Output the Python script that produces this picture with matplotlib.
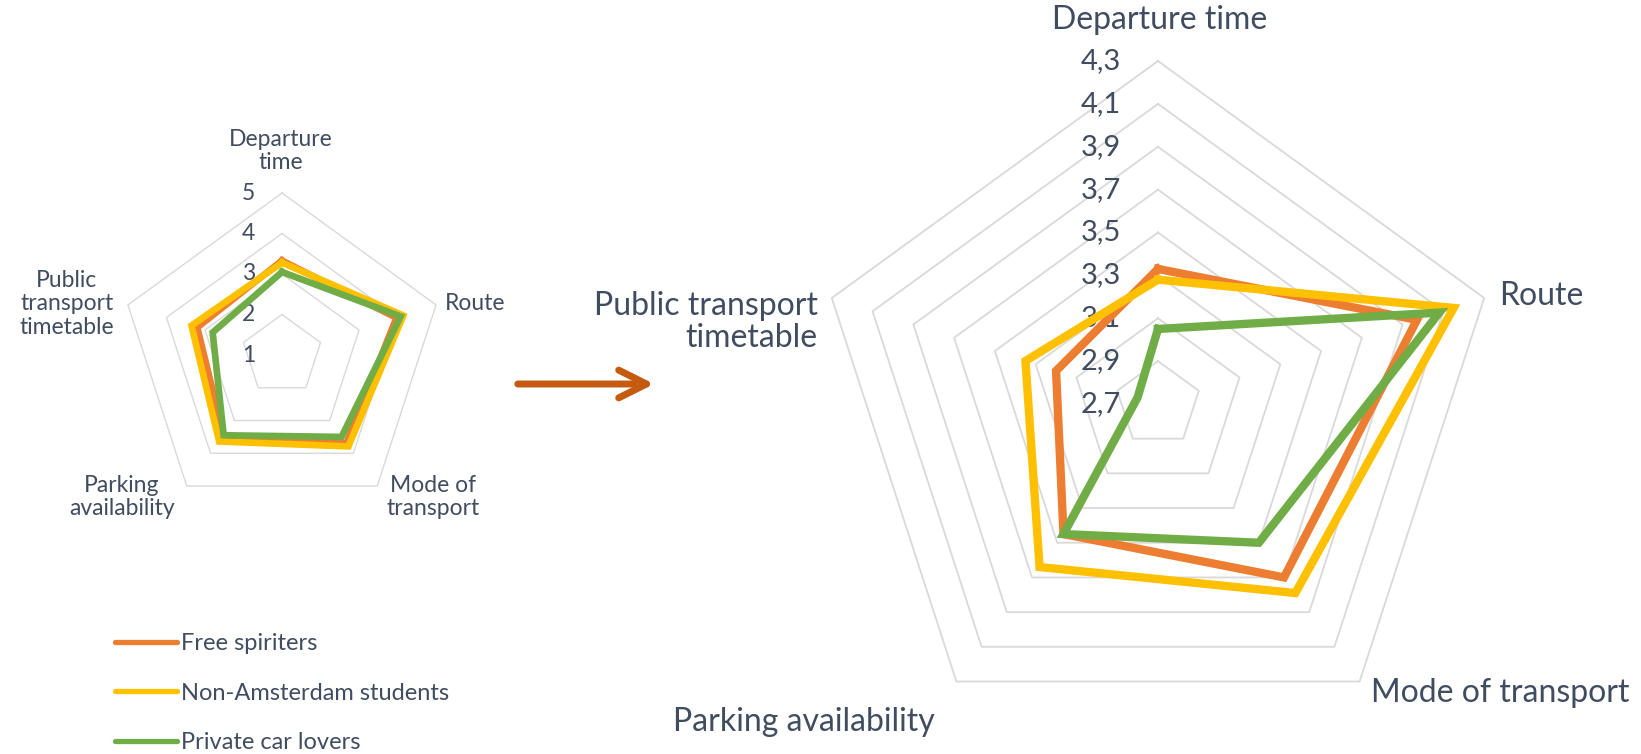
import numpy as np
import matplotlib.pyplot as plt
from matplotlib.patches import FancyArrowPatch
from matplotlib.lines import Line2D
from matplotlib.transforms import offset_copy

plt.rcParams['font.family'] = ['Lato', 'DejaVu Sans']

# data (same survey scores, shown on two scales)
categories = ['Departure time', 'Route', 'Mode of transport',
              'Parking availability', 'Public transport timetable']
series_names = ['Free spiriters', 'Non-Amsterdam students', 'Private car lovers']
free_spiriters = [3.33, 3.97, 3.70, 3.45, 3.20]
non_amsterdam = [3.28, 4.15, 3.79, 3.64, 3.35]
car_lovers = [3.05, 4.08, 3.50, 3.45, 2.80]
colors = ['#ED7D31', '#FFC000', '#70AD47']

left_ticks = [1, 2, 3, 4, 5]
left_tick_labels = ['1', '2', '3', '4', '5']
right_ticks = [2.7, 2.9, 3.1, 3.3, 3.5, 3.7, 3.9, 4.1, 4.3]
right_tick_labels = ['2,7', '2,9', '3,1', '3,3', '3,5', '3,7', '3,9', '4,1', '4,3']

TXT = '#404C60'
GRID = '#D9D9D9'
W, H = 1641, 754

fig = plt.figure(figsize=(W / 100, H / 100), dpi=100)


def fx(px):
    return px / W


def fy(py):
    return 1 - py / H


def radar(center, radius, ticks, tick_labels, tick_off, tick_size, grid_lw, lw):
    cx, cy = center
    ax = fig.add_axes([fx(cx - radius), fy(cy + radius), 2 * radius / W, 2 * radius / H],
                      projection='polar')
    ax.set_theta_zero_location('N')
    ax.set_theta_direction(-1)
    ax.set_ylim(ticks[0], ticks[-1])
    ax.grid(False)
    ax.spines['polar'].set_visible(False)
    ax.set_xticks([])
    ax.set_yticks([])
    ax.patch.set_alpha(0)

    angles = np.linspace(0, 2 * np.pi, len(categories), endpoint=False)
    closed = np.append(angles, angles[0])
    for t in ticks[1:]:
        ax.plot(closed, [t] * len(closed), color=GRID, lw=grid_lw, zorder=1, clip_on=False)

    lines = []
    for vals, c, name in zip([free_spiriters, non_amsterdam, car_lovers], colors, series_names):
        ln, = ax.plot(closed, vals + vals[:1], color=c, lw=lw, zorder=3,
                      solid_joinstyle='miter', clip_on=False, label=name)
        lines.append(ln)

    tr = offset_copy(ax.transData, fig=fig, x=tick_off, y=0, units='dots')
    for t, lab in zip(ticks, tick_labels):
        ax.text(0, t, lab, transform=tr, ha='right', va='center',
                fontsize=tick_size, color=TXT, zorder=2)
    return ax, lines


# small chart, full 1-5 scale
radar((282, 355), 162, left_ticks, left_tick_labels, -27, 16.5, 1.0, 4.8)
ls = 16.5
fig.text(fx(281), fy(151), 'Departure\ntime', ha='center', va='center', fontsize=ls,
         color=TXT, linespacing=1.15)
fig.text(fx(445), fy(303), 'Route', ha='left', va='center', fontsize=ls, color=TXT)
fig.text(fx(67), fy(304), 'Public\ntransport\ntimetable', ha='center', va='center',
         fontsize=ls, color=TXT, linespacing=1.15)
fig.text(fx(122), fy(497), 'Parking\navailability', ha='center', va='center',
         fontsize=ls, color=TXT, linespacing=1.15)
fig.text(fx(433), fy(497), 'Mode of\ntransport', ha='center', va='center',
         fontsize=ls, color=TXT, linespacing=1.15)

# zoomed chart, 2.7-4.3 scale
ax_r, lines = radar((1158, 404), 343, right_ticks, right_tick_labels, -37, 21, 1.3, 6)
rs = 23
fig.text(fx(1160), fy(20), 'Departure time', ha='center', va='center', fontsize=rs, color=TXT)
fig.text(fx(1499), fy(296), 'Route', ha='left', va='center', fontsize=rs, color=TXT)
fig.text(fx(818), fy(322), 'Public transport\ntimetable', ha='right', va='center',
         fontsize=rs, color=TXT, multialignment='right', linespacing=1.1)
fig.text(fx(935), fy(722), 'Parking availability', ha='right', va='center', fontsize=rs, color=TXT)
fig.text(fx(1371), fy(693), 'Mode of transport', ha='left', va='center', fontsize=rs, color=TXT)

# arrow between the two charts
arrow = FancyArrowPatch((fx(515), fy(384)), (fx(657), fy(384)), transform=fig.transFigure,
                        arrowstyle='->,head_length=0.4,head_width=0.2', mutation_scale=50,
                        lw=5, color='#C55A11', capstyle='round')
fig.add_artist(arrow)

handles = [Line2D([], [], color=c, lw=3.8, solid_capstyle='round') for c in colors]
fig.legend(handles, series_names, loc='upper left', bbox_to_anchor=(fx(94), fy(612)),
           frameon=False, fontsize=17, handlelength=2.6, handletextpad=0.2,
           labelspacing=1.2, labelcolor=TXT)

fig.savefig('out.png', dpi=100, facecolor='white')
